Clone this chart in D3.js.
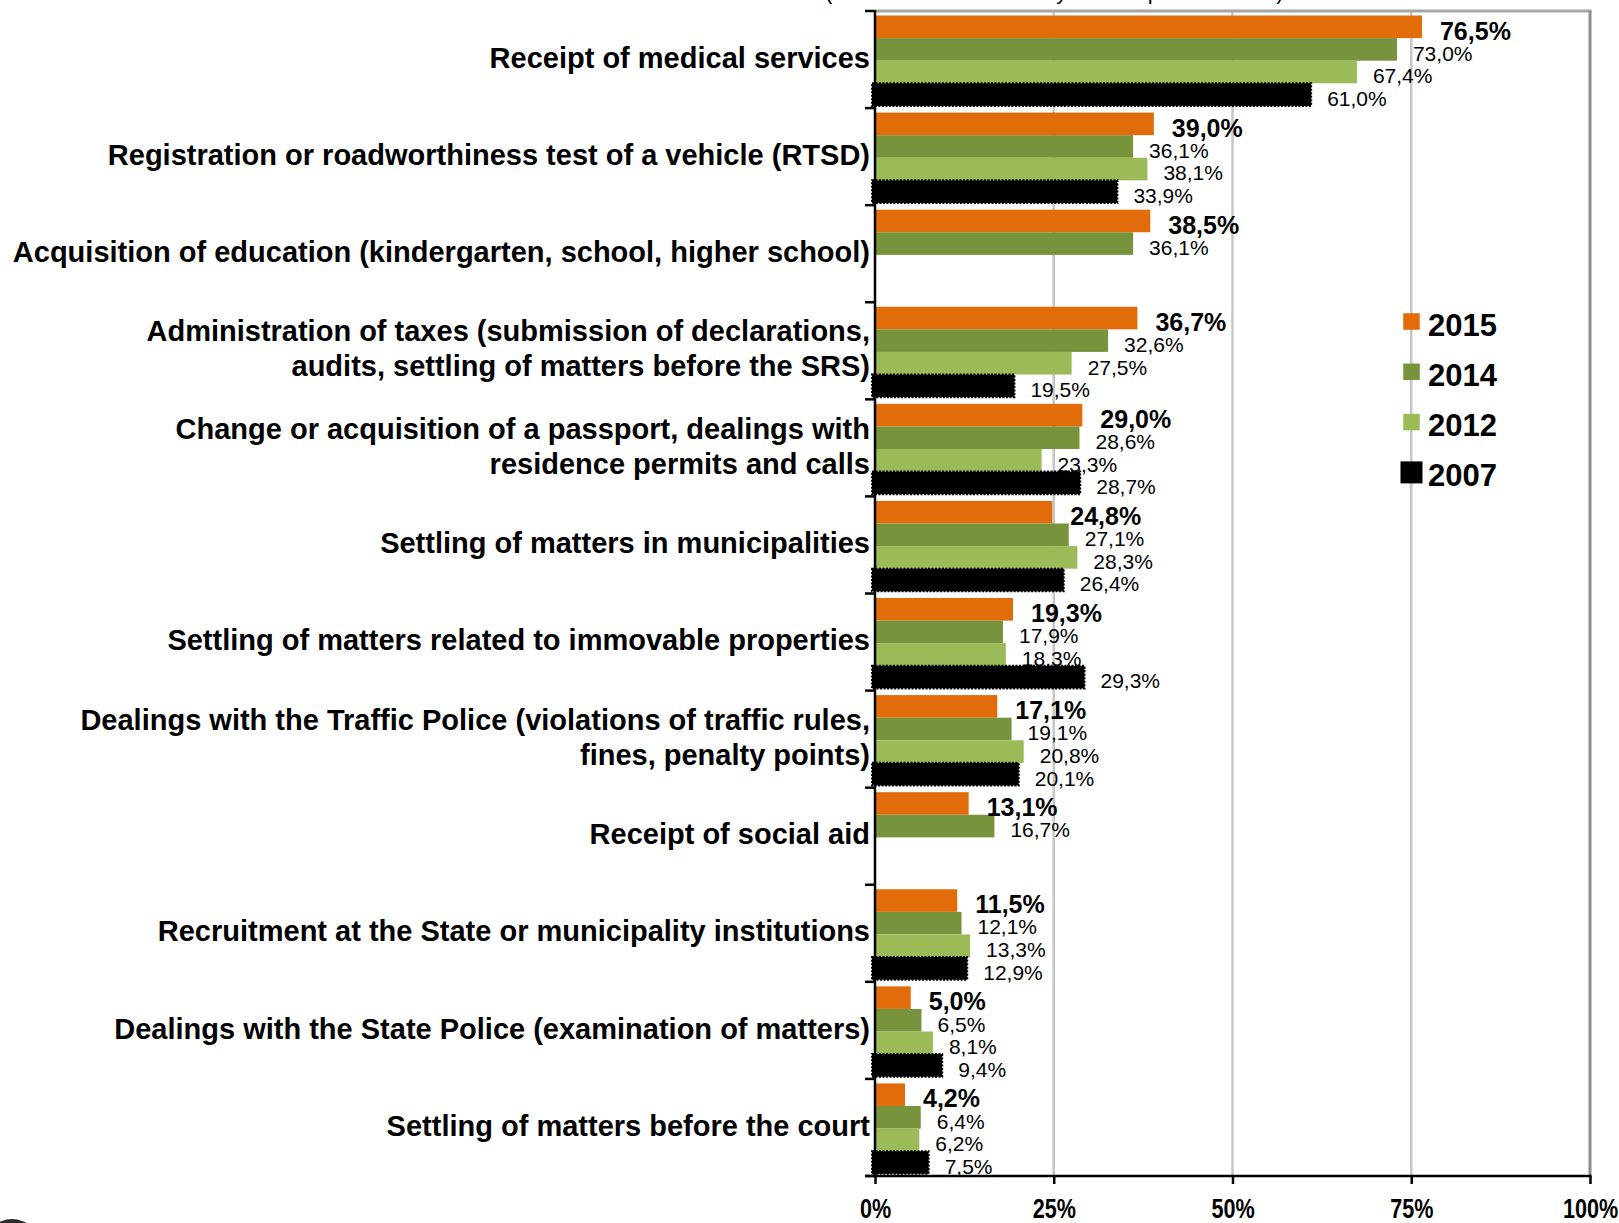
<!DOCTYPE html>
<html>
<head>
<meta charset="utf-8">
<script src="https://cdn.jsdelivr.net/npm/d3@7"></script>
<style>
  html, body { margin: 0; padding: 0; background: #fff; overflow: hidden; }
  svg { display: block; font-family: "Liberation Sans", Arial, sans-serif; }
</style>
</head>
<body>
<svg id="chart" width="1619" height="1223"></svg>
<script>
// Categories of dealings with institutions (two-line labels split by "\n")
const categories = [
  "Receipt of medical services",
  "Registration or roadworthiness test of a vehicle (RTSD)",
  "Acquisition of education (kindergarten, school, higher school)",
  "Administration of taxes (submission of declarations,\naudits, settling of matters before the SRS)",
  "Change or acquisition of a passport, dealings with\nresidence permits and calls",
  "Settling of matters in municipalities",
  "Settling of matters related to immovable properties",
  "Dealings with the Traffic Police (violations of traffic rules,\nfines, penalty points)",
  "Receipt of social aid",
  "Recruitment at the State or municipality institutions",
  "Dealings with the State Police (examination of matters)",
  "Settling of matters before the court"
];

// Survey years (legend order)
const years = ["2015", "2014", "2012", "2007"];

// Share of respondents, % (null = not asked that year)
const values2015 = [76.5, 39.0, 38.5, 36.7, 29.0, 24.8, 19.3, 17.1, 13.1, 11.5, 5.0, 4.2];
const values2014 = [73.0, 36.1, 36.1, 32.6, 28.6, 27.1, 17.9, 19.1, 16.7, 12.1, 6.5, 6.4];
const values2012 = [67.4, 38.1, null, 27.5, 23.3, 28.3, 18.3, 20.8, null, 13.3, 8.1, 6.2];
const values2007 = [61.0, 33.9, null, 19.5, 28.7, 26.4, 29.3, 20.1, null, 12.9, 9.4, 7.5];

// Axis ticks, %
const xTicks = [0, 25, 50, 75, 100];

const colors = { "2015": "#e36c0a", "2014": "#77933c", "2012": "#9bbb59", "2007": "#000000" };
const seriesValues = { "2015": values2015, "2014": values2014, "2012": values2012, "2007": values2007 };

const svg = d3.select("#chart");

const x = d3.scaleLinear().domain([0, 100]).range([875, 1590]);
const y = d3.scaleBand().domain(d3.range(categories.length)).range([11, 1176]);
const ySub = d3.scaleBand().domain(years).range([4.5, y.bandwidth() - 2.2]);

const locale = d3.formatLocale({ decimal: ",", thousands: " ", grouping: [3], currency: ["", ""] });
const fmt = locale.format(".1f");

// Subtitle line above the plot (only its lower edge lies inside the frame)
svg.append("text")
  .attr("x", 825).attr("y", -1)
  .attr("font-size", 22)
  .text("(% of those who had any links to public bodies)");

// Vertical gridlines
svg.append("g").selectAll("line")
  .data(xTicks.filter(d => d > 0 && d < 100))
  .join("line")
  .attr("x1", d => x(d)).attr("x2", d => x(d))
  .attr("y1", y.range()[0]).attr("y2", y.range()[1])
  .attr("stroke", "#c6c6c6").attr("stroke-width", 2.5);

// Plot frame: top and right edges
svg.append("line")
  .attr("x1", x(0)).attr("x2", x(100) + 1.5)
  .attr("y1", y.range()[0]).attr("y2", y.range()[0])
  .attr("stroke", "#a6a6a6").attr("stroke-width", 3);
svg.append("line")
  .attr("x1", x(100)).attr("x2", x(100))
  .attr("y1", y.range()[0]).attr("y2", y.range()[1])
  .attr("stroke", "#8c8c8c").attr("stroke-width", 3);

// Bars
const barG = svg.append("g");
years.forEach(yr => {
  const rows = seriesValues[yr].map((v, i) => ({ v, i })).filter(d => d.v != null);
  const isBlack = yr === "2007";
  const x0 = isBlack ? x(0) - 3 : x(0) + 1;
  const r = barG.append("g").selectAll("rect")
    .data(rows)
    .join("rect")
    .attr("x", x0)
    .attr("y", d => y(d.i) + ySub(yr))
    .attr("width", d => x(d.v) - x0)
    .attr("height", ySub.bandwidth())
    .attr("fill", colors[yr]);
  if (isBlack) {
    r.attr("stroke", "#000").attr("stroke-width", 2).attr("stroke-dasharray", "2,1.5");
  }
});

// Value labels
const labG = svg.append("g");
years.forEach(yr => {
  const rows = seriesValues[yr].map((v, i) => ({ v, i })).filter(d => d.v != null);
  const bold = yr === "2015";
  labG.append("g").selectAll("text")
    .data(rows)
    .join("text")
    .attr("x", d => x(d.v) + (bold ? 18 : 16))
    .attr("y", d => y(d.i) + ySub(yr) + ySub.bandwidth() / 2 + 4)
    .attr("dy", "0.35em")
    .attr("font-size", bold ? 25 : 21)
    .attr("font-weight", bold ? "bold" : "normal")
    .attr("fill", "#000")
    .text(d => fmt(d.v) + "%");
});

// Y axis line and category boundary ticks
svg.append("line")
  .attr("x1", x(0)).attr("x2", x(0))
  .attr("y1", y.range()[0] - 1).attr("y2", y.range()[1])
  .attr("stroke", "#000").attr("stroke-width", 2.5);
const bounds = y.domain().map(i => y(i)).concat([y.range()[1]]);
svg.append("g").selectAll("line")
  .data(bounds)
  .join("line")
  .attr("x1", x(0) - 10).attr("x2", x(0))
  .attr("y1", d => d).attr("y2", d => d)
  .attr("stroke", "#000").attr("stroke-width", 2.5);

// Category labels
const catG = svg.append("g")
  .attr("font-size", 29).attr("font-weight", "bold").attr("text-anchor", "end").attr("fill", "#000");
categories.forEach((c, i) => {
  const lines = c.split("\n");
  const cy = y(i) + y.bandwidth() / 2 - 2;
  const lh = 35;
  const t = catG.append("text");
  lines.forEach((ln, k) => {
    t.append("tspan")
      .attr("x", 870)
      .attr("y", cy - (lines.length - 1) * lh / 2 + k * lh)
      .attr("dy", "0.35em")
      .text(ln);
  });
});

// X axis
svg.append("line")
  .attr("x1", x(0) - 10).attr("x2", x(100) + 1.5)
  .attr("y1", y.range()[1]).attr("y2", y.range()[1])
  .attr("stroke", "#000").attr("stroke-width", 2.5);
const xAxis = svg.append("g")
  .attr("transform", `translate(0,${y.range()[1]})`)
  .call(d3.axisBottom(x).tickValues(xTicks).tickFormat(d => d + "%").tickSize(8).tickSizeOuter(0));
xAxis.select(".domain").remove();
xAxis.selectAll(".tick line").attr("stroke", "#000").attr("stroke-width", 2.5);
xAxis.selectAll(".tick text")
  .attr("y", 42).attr("dy", 0)
  .attr("font-family", "'Liberation Sans', Arial, sans-serif")
  .attr("font-size", 28).attr("font-weight", "bold").attr("fill", "#000")
  .attr("transform", "scale(0.77,1)");

// Legend
const legend = svg.append("g");
years.forEach((yr, i) => {
  const cy = 321.5 + i * 50.3;
  const s = yr === "2007" ? 22 : 16.5;
  legend.append("rect")
    .attr("x", 1411.5 - s / 2).attr("y", cy - s / 2)
    .attr("width", s).attr("height", s)
    .attr("fill", colors[yr]);
  legend.append("text")
    .attr("x", 1428).attr("y", cy + 14)
    .attr("font-size", 31).attr("font-weight", "bold").attr("fill", "#000")
    .text(yr);
});

// Corner emblem
svg.append("circle")
  .attr("cx", 12).attr("cy", 1247).attr("r", 28)
  .attr("fill", "#2b2b2b");
</script>
</body>
</html>
